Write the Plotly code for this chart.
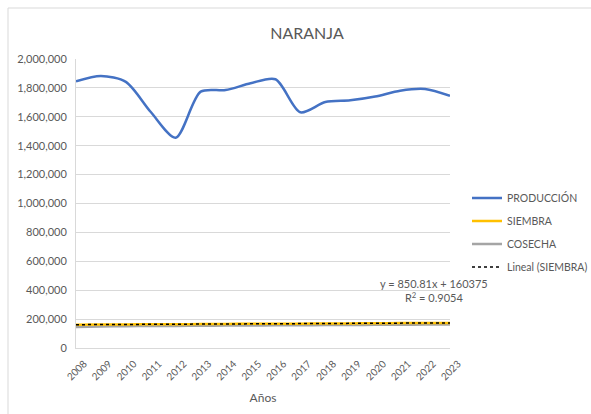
import numpy as np
import plotly.graph_objects as go

# Series (2008-2023)
years = [str(y) for y in range(2008, 2024)]
produccion = [1845000, 1882000, 1842000, 1633000, 1455000, 1774000, 1785000, 1832000,
              1860000, 1631000, 1702000, 1714000, 1740000, 1781000, 1793000, 1745000]
siembra = [160500, 162800, 163200, 164100, 164600, 165300, 166800, 167400,
           168200, 168000, 169900, 170200, 171600, 172400, 172900, 173500]
cosecha = [146000, 149500, 151000, 152500, 153000, 154000, 155500, 156000,
           157000, 157500, 158500, 159500, 160500, 161500, 162000, 163000]
y_ticks = list(range(0, 2000001, 200000))

FONT = "Lato"
GRAY_TXT = "#595959"
GRID = "#d9d9d9"

# Plot area in pixels
L, R, T, B = 76, 450, 59, 348
W, H = 591, 414

# Linear trend of SIEMBRA over positions 1..n
xi = np.arange(1, len(siembra) + 1)
slope, intercept = np.polyfit(xi, siembra, 1)
trend = slope * xi + intercept

fig = go.Figure()
fig.add_trace(go.Scatter(x=years, y=produccion, name="PRODUCCIÓN", mode="lines",
                         line=dict(color="#4472C4", width=2.5, shape="spline", smoothing=0.8),
                         legend="legend"))
fig.add_trace(go.Scatter(x=years, y=cosecha, name="COSECHA", mode="lines",
                         line=dict(color="#A5A5A5", width=2.5, shape="spline", smoothing=0.8),
                         legend="legend3"))
fig.add_trace(go.Scatter(x=years, y=siembra, name="SIEMBRA", mode="lines",
                         line=dict(color="#FFC000", width=2.5, shape="spline", smoothing=0.8),
                         legend="legend2"))
fig.add_trace(go.Scatter(x=years, y=trend, name="Lineal (SIEMBRA)", mode="lines",
                         line=dict(color="#000000", width=1.5, dash="dot"),
                         legend="legend4"))

def px_x(p):
    return (p - L) / (R - L)

def px_y(p):
    return (B - p) / (B - T)

def leg(ypx):
    return dict(x=px_x(467), xanchor="left", y=px_y(ypx), yanchor="middle",
                bgcolor="rgba(0,0,0,0)", font=dict(family=FONT, size=10.5, color=GRAY_TXT),
                itemwidth=30)

fig.update_layout(
    width=W, height=H,
    margin=dict(l=L, r=W - R, t=T, b=H - B, autoexpand=False),
    paper_bgcolor="white", plot_bgcolor="white",
    font=dict(family=FONT, size=11, color=GRAY_TXT),
    title=dict(text="NARANJA", x=307 / W, xanchor="center", y=1 - 33 / H, yanchor="middle",
               font=dict(family=FONT, size=16, color=GRAY_TXT)),
    showlegend=True,
    legend=leg(198), legend2=leg(221), legend3=leg(244), legend4=leg(267),
    xaxis=dict(type="category", tickangle=-45, showgrid=False, showline=True, linecolor=GRID,
               linewidth=1, ticks="", tickfont=dict(family=FONT, size=10, color=GRAY_TXT),
               automargin=False, ticklabelstandoff=5, ticklabelshift=8,
               title=dict(text="Años", font=dict(family=FONT, size=12, color=GRAY_TXT), standoff=12)),
    yaxis=dict(range=[0, 2000000], tickvals=y_ticks, tickformat=",", showgrid=True,
               gridcolor=GRID, gridwidth=1, showline=True, linecolor=GRID, zeroline=False,
               ticks="", automargin=False, ticklabelstandoff=6,
               tickfont=dict(family=FONT, size=11, color=GRAY_TXT)),
    shapes=[dict(type="rect", xref="paper", yref="paper",
                 x0=px_x(8), x1=px_x(W + 20), y0=px_y(H + 20), y1=px_y(8),
                 line=dict(color=GRID, width=1), fillcolor="rgba(0,0,0,0)", layer="below")],
    annotations=[dict(text="y = 850.81x + 160375<br>R<sup>2</sup> = 0.9054",
                      xref="paper", yref="paper", x=px_x(434), y=px_y(290),
                      xanchor="center", yanchor="middle", showarrow=False, align="center",
                      font=dict(family=FONT, size=11, color=GRAY_TXT))],
)

fig.write_html("out.html")
